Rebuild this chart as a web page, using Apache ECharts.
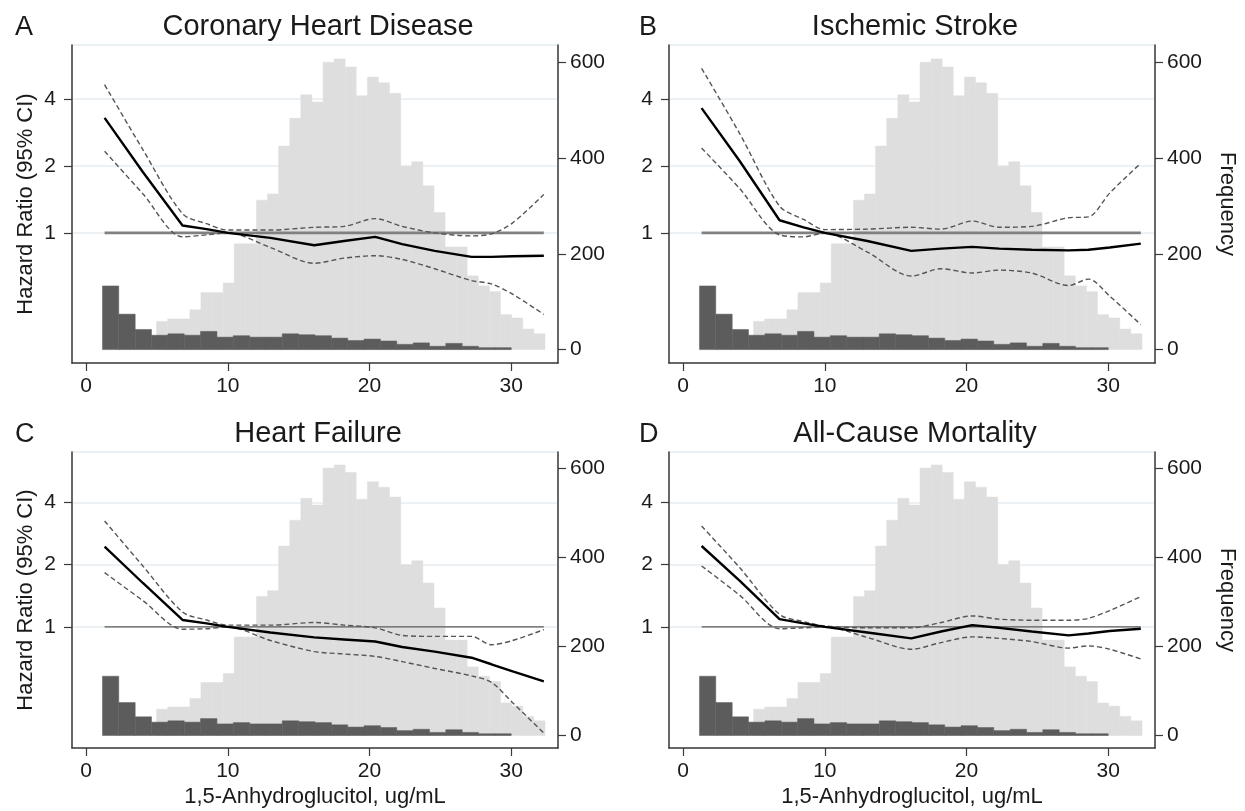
<!DOCTYPE html>
<html>
<head>
<meta charset="utf-8">
<title>1,5-Anhydroglucitol and hazard ratios</title>
<script src="https://cdn.jsdelivr.net/npm/echarts@6/dist/echarts.min.js"></script>
<style>
  html, body { margin: 0; padding: 0; background: #fff; }
  #chart { width: 1245px; height: 811px; }
</style>
</head>
<body>
<div id="chart"></div>
<script>
// panel titles
const panelLetters = ['A', 'B', 'C', 'D'];
const panelTitles = ['Coronary Heart Disease', 'Ischemic Stroke', 'Heart Failure', 'All-Cause Mortality'];

// tick labels
const xTicks = [0, 10, 20, 30];
const hrTicks = [1, 2, 4];
const freqTicks = [0, 200, 400, 600];

// light histogram (all participants): bin edges and counts
const lightEdges = [4.97, 5.75, 6.54, 7.32, 8.10, 8.89, 9.67, 10.45, 11.23, 12.02, 12.80, 13.58,
  14.37, 15.15, 15.93, 16.72, 17.50, 18.28, 19.06, 19.85, 20.63, 21.41, 22.20, 22.98, 23.76,
  24.55, 25.33, 26.11, 26.89, 27.68, 28.46, 29.24, 30.03, 30.81, 31.59, 32.38];
const lightCounts = [59, 64, 64, 83, 119, 119, 139, 221, 221, 312, 325, 425, 483, 532, 517, 600,
  607, 590, 530, 569, 557, 535, 383, 392, 342, 286, 214, 214, 154, 133, 121, 73, 66, 43, 33];

// dark histogram: bin edges and counts
const darkEdges = [1.15, 2.30, 3.46, 4.61, 5.77, 6.92, 8.07, 9.23, 10.38, 11.54, 12.69, 13.84,
  15.00, 16.15, 17.31, 18.46, 19.61, 20.77, 21.92, 23.08, 24.23, 25.38, 26.54, 27.69, 28.85, 30.00];
const darkCounts = [133, 74, 42, 30, 33, 30, 38, 26, 29, 26, 26, 33, 31, 29, 24, 19, 22, 18, 11,
  14, 7, 13, 7, 4, 4];

// hazard ratio curves, read at these x values
const hrX = [1.3, 4, 6.8, 8.5, 10, 13, 16.1, 18.2, 20.4, 22.3, 24.6, 27.2, 28.6, 30.1, 32.3];

const chdHR    = [3.29, 1.88, 1.08, 1.04, 1.0, 0.95, 0.88, 0.92, 0.96, 0.89, 0.83, 0.78, 0.78, 0.785, 0.79];
const chdUpper = [4.64, 2.37, 1.22, 1.10, 1.03, 1.03, 1.06, 1.07, 1.16, 1.07, 1.0, 0.97, 0.99, 1.11, 1.49];
const chdLower = [2.33, 1.50, 0.96, 0.98, 1.0, 0.86, 0.73, 0.77, 0.79, 0.76, 0.69, 0.61, 0.59, 0.53, 0.43];

const strokeHR    = [3.64, 2.10, 1.14, 1.06, 1.0, 0.92, 0.83, 0.85, 0.865, 0.85, 0.84, 0.835, 0.84, 0.86, 0.895];
const strokeUpper = [5.5, 2.79, 1.32, 1.15, 1.035, 1.04, 1.06, 1.04, 1.13, 1.06, 1.07, 1.17, 1.18, 1.51, 2.06];
const strokeLower = [2.41, 1.58, 0.98, 0.96, 1.0, 0.82, 0.64, 0.69, 0.66, 0.68, 0.66, 0.58, 0.62, 0.52, 0.387];

const hfHR    = [2.44, 1.63, 1.08, 1.04, 1.0, 0.94, 0.89, 0.87, 0.85, 0.80, 0.76, 0.71, 0.66, 0.61, 0.546];
const hfUpper = [3.25, 1.97, 1.18, 1.08, 1.02, 1.02, 1.05, 1.02, 0.99, 0.91, 0.90, 0.90, 0.82, 0.86, 0.97];
const hfLower = [1.83, 1.34, 0.975, 0.98, 1.0, 0.86, 0.76, 0.74, 0.72, 0.68, 0.63, 0.58, 0.54, 0.43, 0.307];

const acmHR    = [2.46, 1.67, 1.09, 1.04, 1.0, 0.94, 0.88, 0.95, 1.02, 0.99, 0.95, 0.91, 0.93, 0.955, 0.98];
const acmUpper = [3.07, 1.93, 1.15, 1.06, 1.01, 0.99, 0.99, 1.05, 1.13, 1.09, 1.077, 1.077, 1.10, 1.20, 1.40];
const acmLower = [1.97, 1.42, 0.98, 0.99, 1.0, 0.89, 0.78, 0.84, 0.895, 0.88, 0.85, 0.79, 0.81, 0.78, 0.70];

// reference line HR = 1
const refX = [1.3, 32.3];
const refY = [1, 1];

const panelCurves = [
  [chdHR, chdUpper, chdLower],
  [strokeHR, strokeUpper, strokeLower],
  [hfHR, hfUpper, hfLower],
  [acmHR, acmUpper, acmLower]
];

const FONT = 'Liberation Sans, Arial, Helvetica, sans-serif';
const AXIS_COLOR = '#3a3a3a';
const TEXT_COLOR = '#1a1a1a';

// grid positions (pixels)
const grids = [
  { left: 72, top: 45, width: 486, height: 318 },
  { left: 669, top: 45, width: 486, height: 318 },
  { left: 72, top: 452, width: 486, height: 296 },
  { left: 669, top: 452, width: 486, height: 296 }
];
// panel letter x positions
const letterLeft = [10, 634, 10, 634];

function pairs(xs, ys) {
  return xs.map((x, k) => [x, ys[k]]);
}

function bins(edges, counts) {
  return counts.map((c, k) => [edges[k], edges[k + 1], c]);
}

// 直方图矩形
function histRender(color) {
  return function (params, api) {
    const p0 = api.coord([api.value(0), 0]);
    const p1 = api.coord([api.value(1), api.value(2)]);
    return {
      type: 'rect',
      shape: { x: p0[0], y: p1[1], width: p1[0] - p0[0], height: p0[1] - p1[1] },
      style: { fill: color, stroke: color, lineWidth: 0.5 }
    };
  };
}

const chartDom = document.getElementById('chart');
const myChart = echarts.init(chartDom, null, { renderer: 'canvas' });

const titles = [];
const xAxes = [];
const yAxes = [];
const series = [];

grids.forEach(function (g, i) {
  const cx = g.left + g.width / 2;
  titles.push({
    text: panelLetters[i], left: letterLeft[i], top: g.top - 36,
    textStyle: { fontFamily: FONT, fontSize: 27, fontWeight: 'normal', color: TEXT_COLOR }
  });
  titles.push({
    text: panelTitles[i], left: cx - 2, textAlign: 'center', top: g.top - 38,
    textStyle: { fontFamily: FONT, fontSize: 29, fontWeight: 'normal', color: TEXT_COLOR }
  });

  xAxes.push({
    type: 'value', gridIndex: i, min: -1, max: 33.3,
    axisLine: { show: true, onZero: false, lineStyle: { color: AXIS_COLOR, width: 1.5 } },
    axisTick: { show: true, length: 8, customValues: xTicks, lineStyle: { color: AXIS_COLOR, width: 1.2 } },
    axisLabel: { customValues: xTicks, margin: 13, fontSize: 21, fontFamily: FONT, color: TEXT_COLOR },
    splitLine: { show: false },
    name: i >= 2 ? '1,5-Anhydroglucitol, ug/mL' : '',
    nameLocation: 'middle', nameGap: 38,
    nameTextStyle: { fontSize: 22, fontFamily: FONT, color: TEXT_COLOR }
  });

  // left: hazard ratio (log scale)
  yAxes.push({
    type: 'log', logBase: 2, gridIndex: i, position: 'left', min: 0.26, max: 7,
    axisLine: { show: true, onZero: false, lineStyle: { color: AXIS_COLOR, width: 1.5 } },
    axisTick: { show: true, length: 8, customValues: hrTicks, lineStyle: { color: AXIS_COLOR, width: 1.2 } },
    axisLabel: { customValues: hrTicks, margin: 16, fontSize: 21, fontFamily: FONT, color: TEXT_COLOR },
    splitLine: { show: true, lineStyle: { color: '#e4edf1', width: 1.5 } },
    name: i % 2 === 0 ? 'Hazard Ratio (95% CI)' : '',
    nameLocation: 'middle', nameGap: 35,
    nameTextStyle: { fontSize: 22, fontFamily: FONT, color: TEXT_COLOR }
  });

  // right: frequency
  yAxes.push({
    type: 'value', gridIndex: i, position: 'right', min: -28, max: 636,
    axisLine: { show: true, onZero: false, lineStyle: { color: AXIS_COLOR, width: 1.5 } },
    axisTick: { show: true, length: 8, customValues: freqTicks, lineStyle: { color: AXIS_COLOR, width: 1.2 } },
    axisLabel: { customValues: freqTicks, margin: 12, fontSize: 21, fontFamily: FONT, color: TEXT_COLOR },
    splitLine: { show: false },
    name: i % 2 === 1 ? 'Frequency' : '',
    nameLocation: 'middle', nameGap: 61, nameRotate: -90,
    nameTextStyle: { fontSize: 22, fontFamily: FONT, color: TEXT_COLOR }
  });

  const logAxis = i * 2;
  const freqAxis = i * 2 + 1;

  series.push({
    type: 'custom', xAxisIndex: i, yAxisIndex: freqAxis, silent: true, z: 1,
    renderItem: histRender('#dedede'),
    encode: { x: [0, 1], y: 2 },
    data: bins(lightEdges, lightCounts)
  });
  series.push({
    type: 'custom', xAxisIndex: i, yAxisIndex: freqAxis, silent: true, z: 2,
    renderItem: histRender('#5c5c5c'),
    encode: { x: [0, 1], y: 2 },
    data: bins(darkEdges, darkCounts)
  });

  const thickRef = i < 2;
  series.push({
    type: 'line', xAxisIndex: i, yAxisIndex: logAxis, silent: true, z: 3,
    symbol: 'none',
    lineStyle: { color: thickRef ? '#808080' : '#5a5a5a', width: thickRef ? 2.6 : 1.1 },
    data: pairs(refX, refY)
  });

  const curves = panelCurves[i];
  [curves[1], curves[2]].forEach(function (ci) {
    series.push({
      type: 'line', xAxisIndex: i, yAxisIndex: logAxis, silent: true, z: 4,
      symbol: 'none', smooth: 0.3,
      lineStyle: { color: '#555', width: 1.4, type: [5, 3] },
      data: pairs(hrX, ci)
    });
  });
  series.push({
    type: 'line', xAxisIndex: i, yAxisIndex: logAxis, silent: true, z: 5,
    symbol: 'none',
    lineStyle: { color: '#000', width: 2.4 },
    data: pairs(hrX, curves[0])
  });
});

const option = {
  backgroundColor: '#fff',
  animation: false,
  title: titles,
  grid: grids.map(g => Object.assign({ show: true, borderColor: '#e4edf1', borderWidth: 1.5, containLabel: false }, g)),
  xAxis: xAxes,
  yAxis: yAxes,
  series: series
};

myChart.setOption(option);

window.addEventListener('resize', function () {
  myChart.resize();
});
</script>
</body>
</html>
